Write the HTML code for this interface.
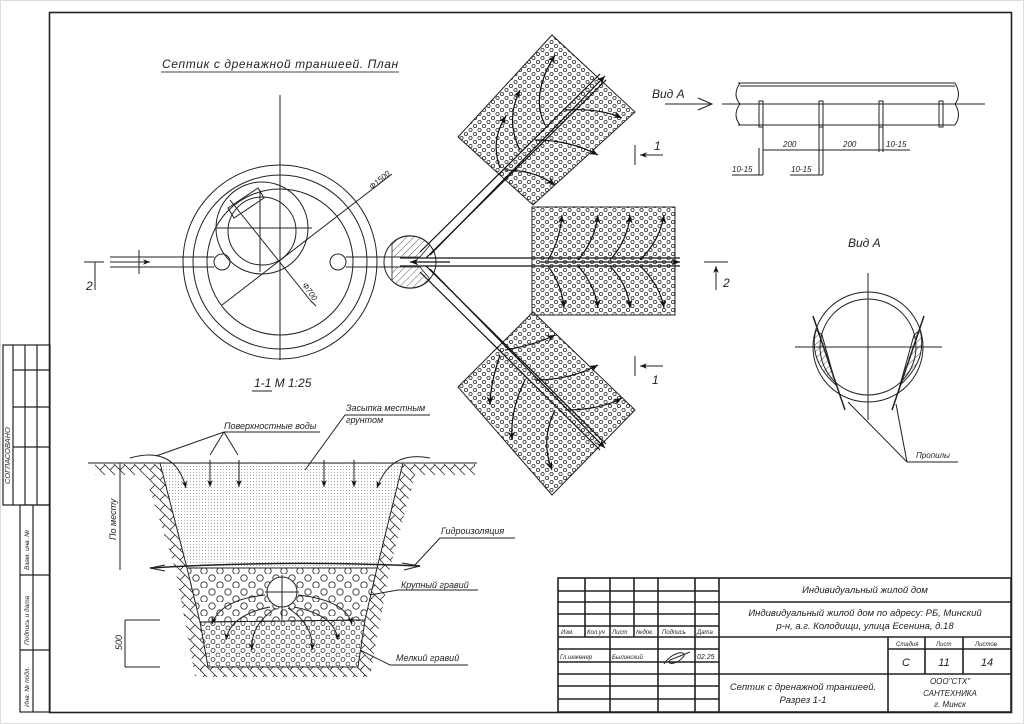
<!DOCTYPE html>
<html><head><meta charset="utf-8"><style>
html,body{margin:0;padding:0;background:#fff;}
svg{display:block;}
text{font-family:"Liberation Sans","DejaVu Sans",sans-serif;font-style:italic;fill:#222;}
</style></head><body>
<svg width="1024" height="724" viewBox="0 0 1024 724" xmlns="http://www.w3.org/2000/svg">
<defs>
<pattern id="grav" width="9" height="8" patternUnits="userSpaceOnUse">
<circle cx="2.5" cy="2" r="1.6" fill="none" stroke="#333" stroke-width="0.8"/>
<circle cx="7" cy="6" r="1.6" fill="none" stroke="#333" stroke-width="0.8"/>
</pattern>
<pattern id="bgrav" width="16" height="14" patternUnits="userSpaceOnUse">
<circle cx="4" cy="4" r="3.2" fill="none" stroke="#333" stroke-width="0.9"/>
<circle cx="12" cy="11" r="3.2" fill="none" stroke="#333" stroke-width="0.9"/>
</pattern>
<pattern id="sgrav" width="10" height="9" patternUnits="userSpaceOnUse">
<circle cx="3" cy="2.5" r="2" fill="none" stroke="#333" stroke-width="0.8"/>
<circle cx="8" cy="7" r="2" fill="none" stroke="#333" stroke-width="0.8"/>
</pattern>
<pattern id="sand" width="3" height="3" patternUnits="userSpaceOnUse">
<rect x="1" y="1" width="0.8" height="0.8" fill="#777"/>
</pattern>
<pattern id="hatch" width="5" height="5" patternUnits="userSpaceOnUse" patternTransform="rotate(45)">
<line x1="0" y1="0" x2="0" y2="5" stroke="#333" stroke-width="0.8"/>
</pattern>
<pattern id="soil" width="10" height="10" patternUnits="userSpaceOnUse">
<path d="M0 10 L5 5 L10 10 M5 5 L0 0" fill="none" stroke="#333" stroke-width="0.8"/>
</pattern>
<marker id="ar" viewBox="0 0 10 10" refX="10" refY="5" markerWidth="7" markerHeight="7" orient="auto-start-reverse">
<path d="M0 1 L10 5 L0 9 L3 5 Z" fill="#111"/>
</marker>
</defs>

<!-- outer light edge -->
<rect x="0.5" y="0.5" width="1023" height="723" fill="none" stroke="#ddd"/>
<!-- frame -->
<rect x="49.5" y="12.5" width="962" height="700" fill="none" stroke="#222" stroke-width="1.6"/>

<!-- left strip -->
<g stroke="#222" stroke-width="1.2" fill="none">
<rect x="3" y="345" width="47" height="160"/>
<line x1="13" y1="345" x2="13" y2="505"/>
<line x1="25" y1="345" x2="25" y2="505"/>
<line x1="37" y1="345" x2="37" y2="505"/>
<line x1="13" y1="370" x2="50" y2="370"/>
<line x1="13" y1="407" x2="50" y2="407"/>
<line x1="13" y1="447" x2="50" y2="447"/>
<rect x="20" y="505" width="30" height="207"/>
<line x1="33" y1="505" x2="33" y2="712"/>
<line x1="20" y1="575" x2="50" y2="575"/>
<line x1="20" y1="650" x2="50" y2="650"/>
</g>
<text transform="translate(10,484) rotate(-90)" font-size="7.5">СОГЛАСОВАНО</text>
<text transform="translate(29,570) rotate(-90)" font-size="6.5">Взам. инв. №</text>
<text transform="translate(29,645) rotate(-90)" font-size="6.5">Подпись и дата</text>
<text transform="translate(29,707) rotate(-90)" font-size="6.5">Инв. № подл.</text>

<!-- title block -->
<g stroke="#222" stroke-width="1.6" fill="none">
<rect x="558" y="578" width="453" height="134"/>
<line x1="719" y1="578" x2="719" y2="712"/>
<line x1="585" y1="578" x2="585" y2="637"/>
<line x1="610" y1="578" x2="610" y2="637"/>
<line x1="634" y1="578" x2="634" y2="637"/>
<line x1="610" y1="637" x2="610" y2="712"/>
<line x1="658" y1="578" x2="658" y2="712"/>
<line x1="695" y1="578" x2="695" y2="712"/>
<line x1="558" y1="591" x2="719" y2="591"/>
<line x1="558" y1="602" x2="1011" y2="602"/>
<line x1="558" y1="614" x2="719" y2="614"/>
<line x1="558" y1="626" x2="719" y2="626"/>
<line x1="558" y1="637" x2="1011" y2="637"/>
<line x1="558" y1="649" x2="719" y2="649"/>
<line x1="888" y1="649" x2="1011" y2="649"/>
<line x1="558" y1="662" x2="719" y2="662"/>
<line x1="558" y1="674" x2="1011" y2="674"/>
<line x1="558" y1="686" x2="719" y2="686"/>
<line x1="558" y1="699" x2="719" y2="699"/>
<line x1="888" y1="637" x2="888" y2="712"/>
<line x1="925" y1="637" x2="925" y2="674"/>
<line x1="963" y1="637" x2="963" y2="674"/>
</g>
<g font-size="6">
<text x="561" y="634">Изм.</text><text x="587" y="634">Кол.уч</text><text x="612" y="634">Лист</text><text x="636" y="634">№док.</text><text x="662" y="634">Подпись</text><text x="697" y="634">Дата</text>
<text x="560" y="659">Гл.инженер</text><text x="612" y="659">Былинский</text><text x="697" y="659" font-size="7">02.25</text>
<text x="896" y="646">Стадия</text><text x="936" y="646">Лист</text><text x="975" y="646">Листов</text>
</g>
<path d="M664 664 C672 652 686 650 684 656 C678 664 666 666 670 660 L690 652" fill="none" stroke="#222" stroke-width="1"/>
<g font-size="9.5" text-anchor="middle">
<text x="865" y="593">Индивидуальный жилой дом</text>
<text x="865" y="616">Индивидуальный жилой дом по адресу: РБ, Минский</text>
<text x="865" y="629">р-н, а.г. Колодищи, улица Есенина, д.18</text>
<text x="803" y="690">Септик с дренажной траншеей.</text>
<text x="803" y="703">Разрез 1-1</text>
<text x="906" y="666" font-size="11">С</text>
<text x="944" y="666" font-size="11">11</text>
<text x="987" y="666" font-size="11">14</text>
<text x="950" y="684" font-size="8">ООО"СТХ"</text>
<text x="950" y="696" font-size="8">САНТЕХНИКА</text>
<text x="950" y="707" font-size="8">г. Минск</text>
</g>

<!-- plan title -->
<text x="162" y="68" font-size="12" letter-spacing="0.6">Септик с дренажной траншеей. План</text>
<line x1="161" y1="72" x2="399" y2="72" stroke="#444" stroke-width="1"/>

<!-- septic plan -->
<g stroke="#222" stroke-width="1" fill="none">
<circle cx="280" cy="262" r="97"/>
<circle cx="280" cy="262" r="87"/>
<circle cx="280" cy="262" r="73"/>
<circle cx="262" cy="228" r="46"/>
<circle cx="262" cy="231" r="34"/>
<line x1="280" y1="95" x2="280" y2="360"/>
<line x1="215" y1="228" x2="312" y2="228"/>
<line x1="260" y1="190" x2="260" y2="272"/>
<polygon points="228,208 258,188 264,198 234,218"/>
<line x1="230" y1="200" x2="310" y2="300"/>
<line x1="222" y1="305" x2="392" y2="174"/>
<line x1="392" y1="174" x2="392" y2="174"/>
<line x1="310" y1="300" x2="316" y2="306"/>
<circle cx="222" cy="262" r="8"/>
<circle cx="338" cy="262" r="8"/>
<line x1="110" y1="257" x2="214" y2="257"/>
<line x1="110" y1="267" x2="214" y2="267"/>
<line x1="346" y1="257" x2="400" y2="257"/>
<line x1="346" y1="267" x2="400" y2="267"/>
<line x1="139" y1="250" x2="139" y2="274"/>
<line x1="110" y1="262" x2="150" y2="262" marker-end="url(#ar)"/>
<line x1="84" y1="262" x2="104" y2="262"/>
<line x1="95" y1="262" x2="95" y2="290"/>
</g>
<text x="86" y="290" font-size="12">2</text>
<text transform="translate(372,190) rotate(-40)" font-size="8">Ф1500</text>
<text transform="translate(302,285) rotate(55)" font-size="8">Ф700</text>
<text x="254" y="387" font-size="12">1-1 М 1:25</text>
<line x1="252" y1="391" x2="272" y2="391" stroke="#222"/>

<!-- small well -->
<circle cx="410" cy="262" r="26" fill="none" stroke="#222"/>
<path d="M392 243 A26 26 0 0 1 430 245 L420 257 L392 257 Z" fill="url(#hatch)" stroke="#222" stroke-width="0.8"/>
<path d="M392 281 A26 26 0 0 0 430 279 L420 267 L392 267 Z" fill="url(#hatch)" stroke="#222" stroke-width="0.8"/>
<line x1="392" y1="257" x2="392" y2="267" stroke="#222"/>

<!-- trenches -->
<polygon points="458,137 552,35 635,112 533,205" fill="url(#grav)" stroke="#222"/>
<rect x="532" y="207" width="143" height="108" fill="url(#grav)" stroke="#222"/>
<polygon points="458,387 533,312 635,410 552,495" fill="url(#grav)" stroke="#222"/>
<g stroke="#111" stroke-width="1.2" fill="none">
<line x1="420" y1="252" x2="600" y2="74"/>
<line x1="426" y1="258" x2="606" y2="80"/>
<line x1="420" y1="272" x2="600" y2="450"/>
<line x1="426" y1="266" x2="606" y2="444"/>
<line x1="400" y1="258" x2="680" y2="258"/>
<line x1="400" y1="266" x2="680" y2="266"/>
<line x1="430" y1="255" x2="605" y2="76" marker-end="url(#ar)"/>
<line x1="430" y1="269" x2="605" y2="448" marker-end="url(#ar)"/>
<line x1="540" y1="262" x2="680" y2="262" marker-end="url(#ar)"/>
<line x1="450" y1="262" x2="410" y2="262" marker-end="url(#ar)"/>
<!-- upper trench arrows -->
<path d="M500 168 Q490 140 506 116" marker-end="url(#ar)"/>
<path d="M520 150 Q505 120 520 90" marker-end="url(#ar)"/>
<path d="M545 125 Q530 95 555 55" marker-end="url(#ar)"/>
<path d="M505 170 Q535 170 555 185" marker-end="url(#ar)"/>
<path d="M535 140 Q570 140 598 155" marker-end="url(#ar)"/>
<path d="M565 110 Q600 108 622 118" marker-end="url(#ar)"/>
<!-- middle -->
<path d="M548 260 Q560 240 562 215" marker-end="url(#ar)"/>
<path d="M578 260 Q595 240 598 215" marker-end="url(#ar)"/>
<path d="M610 260 Q628 240 630 215" marker-end="url(#ar)"/>
<path d="M640 260 Q660 240 664 215" marker-end="url(#ar)"/>
<path d="M548 266 Q562 285 564 308" marker-end="url(#ar)"/>
<path d="M578 266 Q595 285 598 308" marker-end="url(#ar)"/>
<path d="M610 266 Q628 285 630 308" marker-end="url(#ar)"/>
<path d="M640 266 Q660 285 664 308" marker-end="url(#ar)"/>
<!-- lower -->
<path d="M505 350 Q535 345 555 335" marker-end="url(#ar)"/>
<path d="M535 380 Q570 380 598 365" marker-end="url(#ar)"/>
<path d="M565 410 Q600 410 622 398" marker-end="url(#ar)"/>
<path d="M500 355 Q490 385 490 405" marker-end="url(#ar)"/>
<path d="M525 380 Q510 410 512 440" marker-end="url(#ar)"/>
<path d="M555 410 Q540 440 552 470" marker-end="url(#ar)"/>
</g>
<!-- section marks 1 / 2 -->
<g stroke="#222" stroke-width="1" fill="none">
<line x1="635" y1="145" x2="635" y2="165"/>
<line x1="663" y1="155" x2="640" y2="155" marker-end="url(#ar)"/>
<line x1="635" y1="356" x2="635" y2="376"/>
<line x1="663" y1="366" x2="640" y2="366" marker-end="url(#ar)"/>
<line x1="704" y1="262" x2="728" y2="262"/>
<line x1="716" y1="290" x2="716" y2="266" marker-end="url(#ar)"/>
</g>
<text x="654" y="150" font-size="12">1</text>
<text x="652" y="384" font-size="12">1</text>
<text x="723" y="287" font-size="12">2</text>

<!-- Вид А top -->
<text x="652" y="98" font-size="12">Вид А</text>
<g stroke="#222" stroke-width="1" fill="none">
<path d="M665 104 L712 104 M698 98 L712 104 L698 110"/>
<line x1="738" y1="83" x2="955" y2="83"/>
<line x1="738" y1="125" x2="955" y2="125"/>
<line x1="740" y1="86" x2="955" y2="86"/>
<path d="M740 83 Q732 95 740 104 Q732 115 740 125"/>
<path d="M955 83 Q962 95 955 104 Q962 115 955 125"/>
<line x1="722" y1="104" x2="985" y2="104"/>
<rect x="759" y="101" width="4" height="26"/>
<rect x="819" y="101" width="4" height="26"/>
<rect x="879" y="101" width="4" height="26"/>
<rect x="939" y="101" width="4" height="26"/>
<line x1="763" y1="127" x2="763" y2="175"/>
<line x1="759" y1="148" x2="759" y2="175"/>
<line x1="823" y1="127" x2="823" y2="175"/>
<line x1="819" y1="127" x2="819" y2="175"/>
<line x1="879" y1="127" x2="879" y2="152"/>
<line x1="883" y1="127" x2="883" y2="152"/>
<line x1="763" y1="150" x2="910" y2="150"/>
<line x1="732" y1="175" x2="763" y2="175"/>
<line x1="790" y1="175" x2="823" y2="175"/>
</g>
<g font-size="8">
<text x="783" y="147">200</text><text x="843" y="147">200</text><text x="886" y="147">10-15</text>
<text x="732" y="172">10-15</text><text x="791" y="172">10-15</text>
</g>

<!-- Вид А circle -->
<text x="848" y="247" font-size="12">Вид А</text>
<g stroke="#222" stroke-width="1" fill="none">
<circle cx="868" cy="347" r="55"/>
<circle cx="868" cy="347" r="48"/>
<line x1="868" y1="273" x2="868" y2="420"/>
<line x1="795" y1="347" x2="942" y2="347"/>
<path d="M816 330 Q808 360 836 385 L822 335 Z" fill="url(#hatch)"/>
<path d="M920 330 Q928 360 900 385 L914 335 Z" fill="url(#hatch)"/>
<line x1="813" y1="316" x2="845" y2="410" stroke-width="1.5"/>
<line x1="924" y1="316" x2="892" y2="410" stroke-width="1.5"/>
<line x1="848" y1="402" x2="907" y2="462"/>
<line x1="896" y1="404" x2="907" y2="462"/>
<line x1="907" y1="462" x2="958" y2="462"/>
</g>
<text x="916" y="458" font-size="8">Пропилы</text>

<!-- section 1-1 -->
<polygon points="160,463 403,463 377,568 187,568" fill="url(#sand)" stroke="#222"/>
<polygon points="187,568 377,568 365,620 200,622" fill="url(#bgrav)" stroke="#222"/>
<polygon points="200,622 365,620 358,667 208,667" fill="url(#sgrav)" stroke="#222"/>
<g fill="url(#soil)" stroke="none">
<polygon points="95,464 160,464 187,568 200,622 208,667 200,676 195,676 175,568 145,475 95,475"/>
<polygon points="403,464 475,464 475,475 415,475 390,568 370,676 358,676 358,667 365,620 377,568"/>
<polygon points="200,667 370,667 370,677 200,677"/>
</g>
<g stroke="#222" stroke-width="1" fill="none">
<line x1="88" y1="463" x2="477" y2="463"/>
<path d="M150 568 Q280 560 420 566" stroke-width="1.5"/>
<path d="M165 565 L150 568 L165 571"/>
<path d="M402 563 L420 566 L404 570"/>
<circle cx="282" cy="592" r="15" fill="#fff"/>
<line x1="282" y1="575" x2="282" y2="620"/>
<line x1="265" y1="592" x2="299" y2="592"/>
<line x1="120" y1="463" x2="120" y2="570"/>
<line x1="125" y1="620" x2="160" y2="620"/>
<line x1="125" y1="667" x2="160" y2="667"/>
<line x1="125" y1="620" x2="125" y2="667"/>
<path d="M130 458 Q175 445 186 488" marker-end="url(#ar)"/>
<path d="M430 458 Q390 450 377 488" marker-end="url(#ar)"/>
<line x1="210" y1="460" x2="210" y2="487" marker-end="url(#ar)"/>
<line x1="239" y1="460" x2="239" y2="487" marker-end="url(#ar)"/>
<line x1="324" y1="460" x2="324" y2="487" marker-end="url(#ar)"/>
<line x1="354" y1="460" x2="354" y2="487" marker-end="url(#ar)"/>
<path d="M265 595 Q220 600 212 624" marker-end="url(#ar)"/>
<path d="M298 595 Q345 600 352 624" marker-end="url(#ar)"/>
<path d="M270 607 Q230 615 226 640" marker-end="url(#ar)"/>
<path d="M276 608 Q250 625 252 650" marker-end="url(#ar)"/>
<path d="M288 608 Q314 625 312 650" marker-end="url(#ar)"/>
<path d="M294 607 Q335 615 338 640" marker-end="url(#ar)"/>
<path d="M156 456 L224 432 L320 432"/>
<line x1="224" y1="432" x2="210" y2="455"/>
<line x1="224" y1="432" x2="238" y2="455"/>
<path d="M305 470 L345 415 L430 415"/>
<path d="M414 566 L440 538 L515 538"/>
<path d="M370 595 L398 590 L478 590"/>
<path d="M360 650 L390 665 L468 665"/>
</g>
<g font-size="9">
<text x="224" y="429">Поверхностные воды</text>
<text x="346" y="411">Засыпка местным</text>
<text x="346" y="423">грунтом</text>
<text x="441" y="534">Гидроизоляция</text>
<text x="401" y="588">Крупный гравий</text>
<text x="396" y="661">Мелкий гравий</text>
</g>
<text transform="translate(116,540) rotate(-90)" font-size="9">По месту</text>
<text transform="translate(122,650) rotate(-90)" font-size="9">500</text>
</svg>
</body></html>
